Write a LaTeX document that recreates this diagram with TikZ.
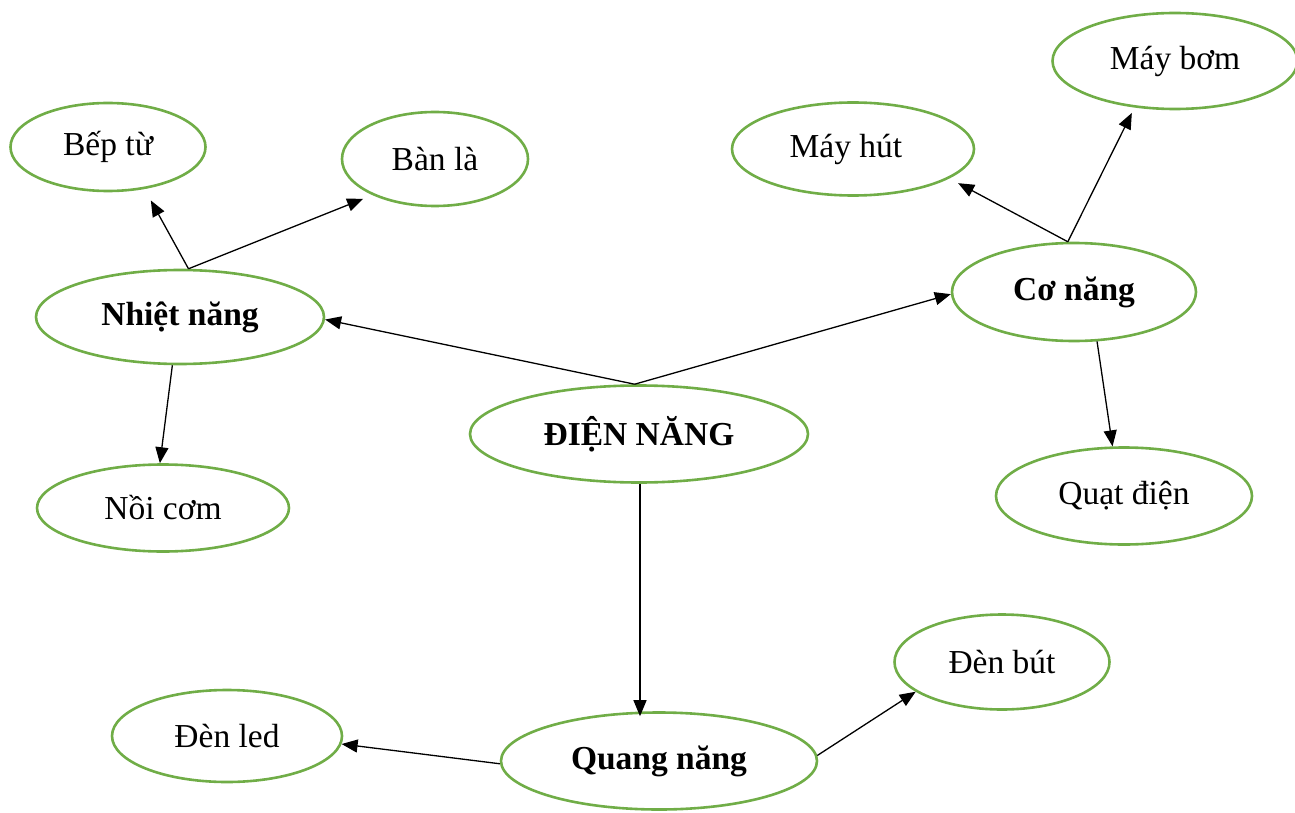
\documentclass[tikz,border=0pt]{standalone}
\usepackage{fontspec}
\setmainfont{Liberation Serif}
\usetikzlibrary{shapes.geometric,arrows.meta}
\definecolor{ovalgreen}{HTML}{70AD47}
\begin{document}
\begin{tikzpicture}[x=1pt,y=-1pt,
  oval/.style={ellipse,draw=ovalgreen,line width=2.6pt,inner sep=0pt,
    font=\fontsize{33.5}{38}\selectfont},
  key/.style={oval,font=\fontsize{33.5}{38}\selectfont\bfseries},
  arr/.style={line width=1.3pt,-{Triangle[length=16pt,width=13pt]}}]
\useasboundingbox (0,0) rectangle (1295,813);
\node[oval,minimum width=195pt,minimum height=88pt] (bep) at (108,147) {Bếp từ};
\node[oval,minimum width=186pt,minimum height=94pt] (banla) at (435,159) {Bàn là};
\node[key,minimum width=288pt,minimum height=94pt] (nhiet) at (180,317) {Nhiệt năng};
\node[oval,minimum width=252pt,minimum height=87pt] (noi) at (163,508) {Nồi cơm};
\node[key,minimum width=338pt,minimum height=97pt] (dien) at (639,434) {ĐIỆN NĂNG};
\node[oval,minimum width=242pt,minimum height=93pt] (mayhut) at (853,149) {Máy hút\hspace*{14pt}};
\node[oval,minimum width=245pt,minimum height=96pt] (maybom) at (1175,61) {Máy bơm};
\node[key,minimum width=244pt,minimum height=98pt] (co) at (1074,292) {Cơ năng};
\node[oval,minimum width=256pt,minimum height=97pt] (quat) at (1124,496) {Quạt điện};
\node[oval,minimum width=215pt,minimum height=95pt] (denbut) at (1002,662) {Đèn bút};
\node[oval,minimum width=230pt,minimum height=92pt] (denled) at (227,736) {Đèn led};
\node[key,minimum width=316pt,minimum height=97pt] (quang) at (659,761) {Quang năng};

\draw[arr] (dien.95) -- (nhiet.-1);
\draw[arr] (dien.95) -- (co.181);
\draw[arr,shorten >=-5pt] ([xshift=1pt]dien.south) -- ([xshift=1pt]dien.south |- quang.north);
\draw[arr,shorten >=13pt] (nhiet.80) -- (bep.-49);
\draw[arr,shorten >=10pt] (nhiet.80) -- (banla.-150);
\draw[arr] (nhiet.-99) -- (noi.94);
\draw[arr,shorten >=10pt] (co.97) -- (mayhut.-17);
\draw[arr,shorten >=6pt] (co.97) -- (maybom.-131);
\draw[arr] (co.-65) -- (quat.103);
\draw[arr] (quang.181) -- (denled.-4);
\draw[arr] (quang.2) -- (denbut.-161);
\end{tikzpicture}
\end{document}
